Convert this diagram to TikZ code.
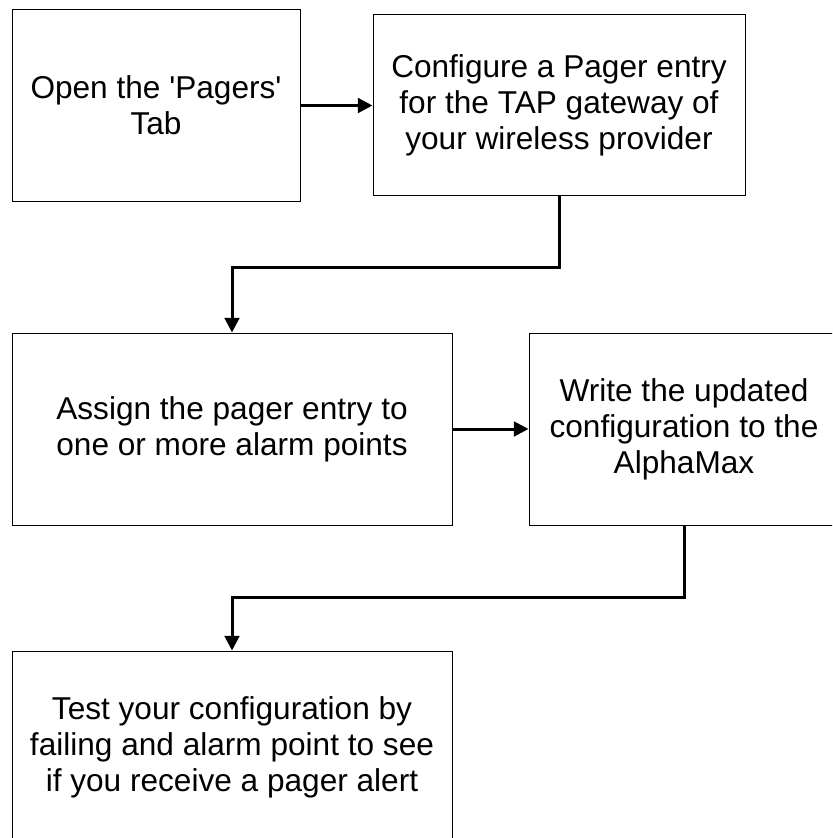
\documentclass[tikz,border=0pt]{standalone}
\usepackage{fontspec}
\setmainfont{Liberation Sans}
\usetikzlibrary{arrows.meta}
\tikzset{
  stepbox/.style={draw,line width=0.75pt,align=center,inner sep=0pt,
    font=\fontsize{23.7pt}{27pt}\selectfont},
  flow/.style={line width=2.25pt,-{Triangle[length=11pt,width=11pt]}}
}

\begin{document}
\begin{tikzpicture}[x=0.75pt,y=-0.75pt]
    \useasboundingbox (0,0) rectangle (832,838);
    \clip (0,0) rectangle (832,838);

    \node [stepbox, minimum width=216pt, minimum height=143.25pt] (open) at (156,105.5)
      {Open the \textquotesingle Pagers\textquotesingle\\Tab};
    \node [stepbox, minimum width=279pt, minimum height=135pt] (config) at (559,105)
      {Configure a Pager entry\\for the TAP gateway of\\your wireless provider};
    \node [stepbox, minimum width=330pt, minimum height=144pt] (assign) at (232,429)
      {Assign the pager entry to\\one or more alarm points};
    \node [stepbox, minimum width=232.5pt, minimum height=144pt] (write) at (684,429)
      {Write the updated\\configuration to the\\AlphaMax};
    \node [stepbox, minimum width=330pt, minimum height=144pt] (test) at (232,747)
      {Test your configuration by\\failing and alarm point to see\\if you receive a pager alert};

    \coordinate (bendA) at (0,267);
    \coordinate (bendB) at (0,597);

    \draw [flow] (open.east) -- (open.east -| config.west);
    \draw [flow] (config.south) -- (config.south |- bendA) -| (assign.north);
    \draw [flow] (assign.east) -- (write.west);
    \draw [flow] (write.south) -- (write.south |- bendB) -| (test.north);
\end{tikzpicture}
\end{document}
